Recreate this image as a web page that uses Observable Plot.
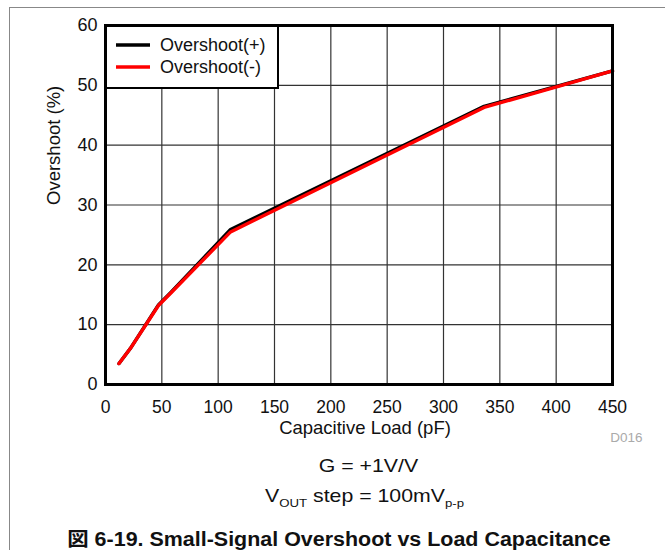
<!DOCTYPE html>
<html>
<head>
<meta charset="utf-8">
<script src="https://cdn.jsdelivr.net/npm/d3@7"></script>
<script src="https://cdn.jsdelivr.net/npm/@observablehq/plot@0.6"></script>
<style>
  html, body { margin: 0; padding: 0; width: 665px; height: 550px; overflow: hidden; background: #fff; }
  body { position: relative; font-family: "Liberation Sans", Arial, "Noto Sans CJK JP", sans-serif; color: #111; }
  #frame { position: absolute; left: 9px; top: 7px; width: 700px; height: 600px; border-left: 1.5px solid #888; border-top: 1.5px solid #888; box-sizing: border-box; }
  #chart { position: absolute; left: 0; top: 0; }
  #legend { position: absolute; left: 105px; top: 25px; width: 174px; height: 64px; border: 2.5px solid #000; background: #fff; box-sizing: border-box; }
  .leg-row { position: absolute; left: 9px; height: 20px; display: flex; align-items: center; font-size: 18px; white-space: nowrap; }
  .leg-row svg { margin-right: 10px; }
  .note { position: absolute; left: 0; text-align: center; font-size: 18.5px; line-height: 1; white-space: nowrap; transform: scaleX(1.15); transform-origin: center; }
  .note sub { font-size: 11.5px; vertical-align: -5px; line-height: 0; }
  #title { position: absolute; left: 0; width: 678px; text-align: center; font-size: 19.5px; font-weight: bold; line-height: 1; white-space: nowrap; transform: scaleX(1.1); transform-origin: center; font-family: "Liberation Sans", Arial, "Noto Sans CJK JP", sans-serif; }
</style>
</head>
<body>
<div id="frame"></div>
<div id="chart"></div>
<div id="legend"></div>
<div class="note" style="top:457px; width:737px;">G = +1V/V</div>
<div class="note" style="top:487px; width:729px;">V<sub>OUT</sub> step = 100mV<sub>p-p</sub></div>
<div id="title" style="top:530px;">図 6-19. Small-Signal Overshoot vs Load Capacitance</div>
<script>
// Data
const capacitance   = [12, 22, 47, 58, 111, 336, 450];          // pF
const overshootPos  = [3.5, 6.0, 13.3, 15.4, 25.9, 46.5, 52.4]; // %
const overshootNeg  = [3.5, 6.0, 13.2, 15.3, 25.5, 46.3, 52.4]; // %
const seriesNames   = ["Overshoot(+)", "Overshoot(-)"];
const seriesColors  = ["#000000", "#ff0000"];
const xTicks = [0, 50, 100, 150, 200, 250, 300, 350, 400, 450];
const yTicks = [0, 10, 20, 30, 40, 50, 60];
const xLabel = "Capacitive Load (pF)";
const yLabel = "Overshoot (%)";
const figId = "D016";

const pos = capacitance.map((c, i) => ({c, v: overshootPos[i]}));
const neg = capacitance.map((c, i) => ({c, v: overshootNeg[i]}));

const chart = Plot.plot({
  width: 665,
  height: 445,
  marginLeft: 105,
  marginRight: 53,
  marginTop: 25,
  marginBottom: 61,
  style: {fontFamily: "'Liberation Sans', Arial, sans-serif", fontSize: "18px", color: "#111", background: "transparent"},
  x: {domain: [0, 450]},
  y: {domain: [0, 60]},
  marks: [
    Plot.gridX(xTicks, {stroke: "#333", strokeOpacity: 1, strokeWidth: 1.2}),
    Plot.gridY(yTicks, {stroke: "#333", strokeOpacity: 1, strokeWidth: 1.2}),
    Plot.axisX({ticks: xTicks, tickSize: 0, tickPadding: 16, label: null, fontSize: 17.5}),
    Plot.axisY({ticks: yTicks, tickSize: 0, tickPadding: 8, label: null, fontSize: 18}),
    Plot.line(pos, {x: "c", y: "v", stroke: seriesColors[0], strokeWidth: 3.4}),
    Plot.line(neg, {x: "c", y: "v", stroke: seriesColors[1], strokeWidth: 3.4}),
    Plot.frame({stroke: "#000", strokeWidth: 3}),
    Plot.text([xLabel], {frameAnchor: "bottom", lineAnchor: "middle", dx: 6, dy: 44, text: d => d, fontSize: 18.5, fill: "#111"}),
    Plot.text([yLabel], {frameAnchor: "left", lineAnchor: "middle", dx: -51, rotate: -90, text: d => d, fontSize: 18.5, fill: "#111"}),
    Plot.text([figId], {frameAnchor: "bottom-right", lineAnchor: "middle", textAnchor: "end", dx: 30, dy: 53, text: d => d, fontSize: 13.5, fill: "#aaa"})
  ]
});
document.getElementById("chart").appendChild(chart);

// Legend
const legend = document.getElementById("legend");
seriesNames.forEach((name, i) => {
  const row = document.createElement("div");
  row.className = "leg-row";
  row.style.top = (8 + i * 22) + "px";
  row.innerHTML = `<svg width="34" height="6"><line x1="0" x2="34" y1="3" y2="3" stroke="${seriesColors[i]}" stroke-width="3.4"/></svg><span>${name}</span>`;
  legend.appendChild(row);
});
</script>
</body>
</html>
